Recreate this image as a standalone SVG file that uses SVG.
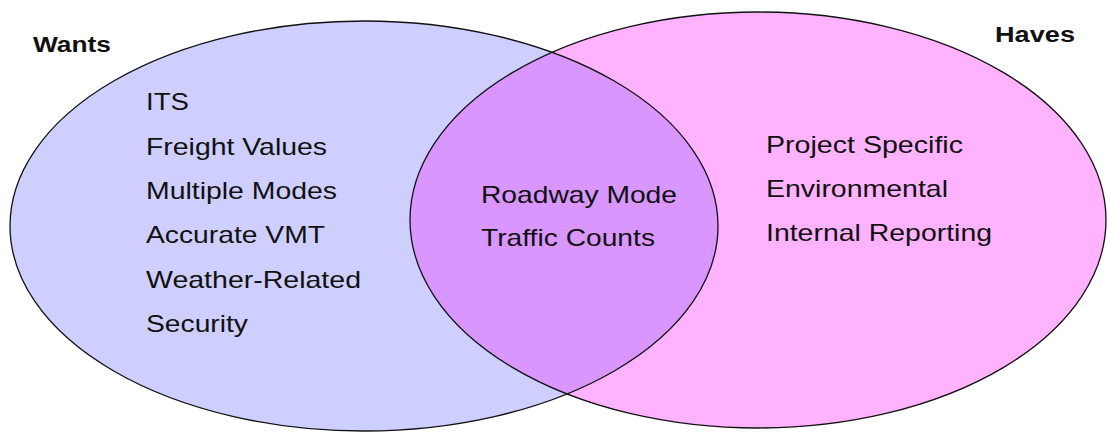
<svg xmlns="http://www.w3.org/2000/svg" width="1107" height="432" viewBox="0 0 1107 432">
<style>
text{font-family:"Liberation Sans",Arial,sans-serif;fill:#111;}
.item{font-size:24px;}
.title{font-size:22px;font-weight:bold;}
.edge{fill:none;stroke:#111;stroke-width:1.3;}
</style>
<defs>
<clipPath id="clipLeft"><ellipse cx="364" cy="226" rx="354" ry="205"/></clipPath>
</defs>
<rect width="1107" height="432" fill="#fff"/>
<g id="wants">
<ellipse cx="364" cy="226" rx="354" ry="205" fill="#CFCFFF"/>
</g>
<g id="haves">
<ellipse cx="758" cy="220" rx="348" ry="208" fill="#FFB3FF"/>
</g>
<g id="overlap">
<ellipse cx="758" cy="220" rx="348" ry="208" fill="#D996FF" clip-path="url(#clipLeft)"/>
</g>
<g id="outlines">
<ellipse class="edge" cx="364" cy="226" rx="354" ry="205"/>
<ellipse class="edge" cx="758" cy="220" rx="348" ry="208"/>
</g>
<g id="titles">
<text class="title" x="33" y="52" textLength="78" lengthAdjust="spacingAndGlyphs">Wants</text>
<text class="title" x="995" y="42" textLength="80" lengthAdjust="spacingAndGlyphs">Haves</text>
</g>
<g id="wants-items">
<text class="item" x="146" y="110" textLength="43" lengthAdjust="spacingAndGlyphs">ITS</text>
<text class="item" x="146" y="155" textLength="181" lengthAdjust="spacingAndGlyphs">Freight Values</text>
<text class="item" x="146" y="199" textLength="191" lengthAdjust="spacingAndGlyphs">Multiple Modes</text>
<text class="item" x="146" y="243" textLength="179" lengthAdjust="spacingAndGlyphs">Accurate VMT</text>
<text class="item" x="146" y="288" textLength="215" lengthAdjust="spacingAndGlyphs">Weather-Related</text>
<text class="item" x="146" y="332" textLength="102" lengthAdjust="spacingAndGlyphs">Security</text>
</g>
<g id="overlap-items">
<text class="item" x="481" y="203" textLength="196" lengthAdjust="spacingAndGlyphs">Roadway Mode</text>
<text class="item" x="481" y="246" textLength="174" lengthAdjust="spacingAndGlyphs">Traffic Counts</text>
</g>
<g id="haves-items">
<text class="item" x="766" y="153" textLength="197" lengthAdjust="spacingAndGlyphs">Project Specific</text>
<text class="item" x="766" y="197" textLength="182" lengthAdjust="spacingAndGlyphs">Environmental</text>
<text class="item" x="766" y="241" textLength="226" lengthAdjust="spacingAndGlyphs">Internal Reporting</text>
</g>
</svg>
